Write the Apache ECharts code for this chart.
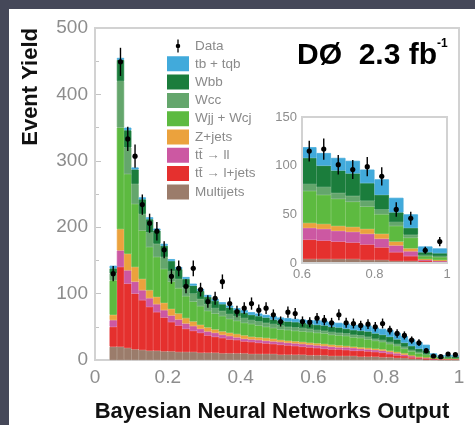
<!DOCTYPE html>
<html><head><meta charset="utf-8">
<script src="https://cdn.jsdelivr.net/npm/echarts@6/dist/echarts.min.js"></script>
<style>html,body{margin:0;padding:0;background:#454859;}#c{width:475px;height:425px;}</style>
</head><body><div id="c"></div>
<script>
// ---- main histogram: 50 bins of width 0.02 on [0,1] (first two bins empty) ----
const nBinsMain = 50;
const multijets = [null,null, 20,20,18,16,15, 14,14,13,13,12, 12,12,11,11,11, 10,10,10,10,9, 9,9,9,8,8, 8,8,7,7,7, 6,6,6,6,5, 5,5,4,4,3, 3,2,2,1,1, 0.5,0.5,0.5];
const ttLjets   = [null,null, 30,120,97,84,75, 66,58,51,44,40, 35,32,30,26,24, 23,21,20,18,18, 17,16,15,15,14, 13,12,12,11,10, 10,10,9,8,9, 8,7,7,5,4, 3,2,1,1,0.5, 0.5,0.5,0.5];
const ttLL      = [null,null, 10,25,20,18,15, 13,12,11,10,9, 8,7,6,6,6, 5,5,4,4,4, 4,4,4,4,4, 4,4,4,4,4, 4,3,4,4,3, 3,3,3,3,3, 2,2,1,1,0.5, 0.5,0.5,0.5];
const zjets     = [null,null, 8,32,25,22,17, 12,11,11,10,9, 8,7,6,6,5, 5,5,5,5,4, 4,4,4,3,3, 3,3,3,3,3, 3,3,2,2,2, 2,2,2,2,2, 2,1,1,1,0.5, 0.5,0.5,0.5];
const wjj       = [null,null, 52,153,120,95,73, 65,60,51,41,38, 33,30,28,25,24, 23,21,20,19,19, 18,17,16,16,16, 16,16,16,16,16, 15,15,15,14,14, 13,12,11,10,9, 7,6,5,4,1.5, 1,1,1];
const wcc       = [null,null, 10,70,40,30,25, 22,20,18,16,14, 13,12,11,10,8, 8,7,7,7,6, 6,6,6,6,5, 5,5,5,4,4, 4,4,4,4,4, 4,3,3,3,3, 3,2,2,1,1, 0.5,1,0.5];
const wbb       = [null,null, 8,32,26,22,22, 20,20,17,15,15, 13,12,12,11,11, 10,10,9,8,8, 8,8,7,7,8, 8,8,7,8,8, 8,8,7,7,7, 8,8,8,8,7, 6,6,5,5,2, 1.5,1.5,1.5];
const tbtqb     = [null,null, 4,3,4,3,3, 3,3,3,3,3, 3,3,3,3,3, 3,3,3,4,4, 4,4,5,5,5, 5,5,6,7,7, 7,7,8,8,9, 9,9,9,10,10, 10,10,10,9,3, 2,2.5,2];
const dataMain  = [null,null, 130,449,333,307,234, 206,194,166,126,138, 111,138,106,88,93, 118,85,73,78,85, 75,78,68,58,72, 70,58,57,63,60, 56,68,56,55,52, 54,50,55,45,40, 37,30,26,14,6, 5,9,8];

// ---- inset histogram: 10 bins of width 0.04 on [0.6,1] ----
const nBinsInset = 10;
const inMultijets = [4,4,4,4,3,3,2,2,1,0.5];
const inTtLjets   = [20,19,18,17,16,13,9,5,1,0.5];
const inTtLL      = [12,12,11,11,11,9,7,5,1,1];
const inZjets     = [5,5,5,5,5,5,4,3,1,1];
const inWjj       = [33,30,28,26,23,20,16,11,3,3];
const inWcc       = [7,8,6,6,6,5,4,3,1,1];
const inWbb       = [27,22,23,23,18,15,10,7,3,3];
const inTbtqb     = [11,13,13,13,14,16,15,14,6,5];
const inData      = [115,117,101,96,99,89,55,46,13,22];

const mainYTicks = [0,100,200,300,400,500];
const mainXTicks = [0,0.2,0.4,0.6,0.8,1];
const insetYTicks = [0,50,100,150];
const insetXTicks = [0.6,0.8,1];

const names  = ['tb + tqb','Wbb','Wcc','Wjj + Wcj','Z+jets','tt\u0304 \u2192 ll','tt\u0304 \u2192 l+jets','Multijets'];
const colors = ['#41aadb','#1b7d3c','#64a66c','#5dba40','#eba23d','#cc58a2','#e5302e','#9b7c6b'];
const mainStack  = [tbtqb,wbb,wcc,wjj,zjets,ttLL,ttLjets,multijets];
const insetStack = [inTbtqb,inWbb,inWcc,inWjj,inZjets,inTtLL,inTtLjets,inMultijets];

const mainCats = Array.from({length:nBinsMain},(_,i)=>String(i));
const insetCats = Array.from({length:nBinsInset},(_,i)=>String(i));

const FONT = '"Liberation Sans", Arial, sans-serif';
const labelGrey = '#8d8d8d';

function errBars(params, api){
  const x = api.value(0), y = api.value(1);
  const e = Math.sqrt(y);
  const p = api.coord([x, y]);
  const lo = api.coord([x, Math.max(0, y - e)]);
  const hi = api.coord([x, y + e]);
  return {type:'group', children:[
    {type:'line', shape:{x1:p[0],y1:lo[1],x2:p[0],y2:hi[1]}, style:{stroke:'#000',lineWidth:1.4}},
    {type:'circle', shape:{cx:p[0],cy:p[1],r:2.6}, style:{fill:'#000'}}
  ]};
}

const series = [];
for (let k = mainStack.length - 1; k >= 0; k--) {
  series.push({name:names[k], type:'bar', stack:'main', xAxisIndex:0, yAxisIndex:0, z:2,
    barCategoryGap:'0%', data:mainStack[k],
    itemStyle:{color:colors[k], borderColor:colors[k], borderWidth:0.8}, silent:true});
}
series.push({name:'Data', type:'custom', xAxisIndex:0, yAxisIndex:0, z:3,
  itemStyle:{color:'#000'}, renderItem:errBars, encode:{x:0,y:1},
  data:dataMain.map((v,i)=>[i,v]).filter(d=>d[1]!==null)});
for (let k = insetStack.length - 1; k >= 0; k--) {
  series.push({name:names[k], type:'bar', stack:'inset', xAxisIndex:2, yAxisIndex:1, z:6,
    barCategoryGap:'0%', data:insetStack[k],
    itemStyle:{color:colors[k], borderColor:colors[k], borderWidth:0.8}, silent:true});
}
series.push({name:'Data', type:'custom', xAxisIndex:2, yAxisIndex:1, z:7,
  itemStyle:{color:'#000'}, renderItem:errBars, encode:{x:0,y:1},
  data:inData.map((v,i)=>[i,v])});

const chart = echarts.init(document.getElementById('c'));
chart.setOption({
  animation:false,
  backgroundColor:'#454859',
  graphic:[
    {type:'rect', z:-10, shape:{x:9,y:9,width:466,height:416}, style:{fill:'#ffffff'}},
    {type:'text', z:10, x:297, y:56, style:{text:'D\u00D8  2.3 fb', font:'bold 30px '+FONT, fill:'#000', verticalAlign:'middle'}},
    {type:'text', z:10, x:437, y:44, style:{text:'-1', font:'bold 12px '+FONT, fill:'#000', verticalAlign:'middle'}},
    {type:'text', z:10, x:31, y:28, rotation:Math.PI/2, style:{text:'Event Yield', font:'bold 22px '+FONT, fill:'#111', align:'right', verticalAlign:'middle'}},
    {type:'text', z:10, x:272, y:412, style:{text:'Bayesian Neural Networks Output', font:'bold 22px '+FONT, fill:'#111', align:'center', verticalAlign:'middle'}}
  ],
  legend:{
    orient:'vertical', left:162, top:34, itemWidth:20, itemHeight:13, itemGap:3.3,
    textStyle:{fontSize:13.5, color:'#8a8a8a', fontFamily:FONT, padding:[0,0,0,2]},
    icon:'rect', selectedMode:false,
    data:[{name:'Data', icon:'path://M4,0H6V20H4Z M5,6.5A3.5,3.5 0 1,1 5,13.5A3.5,3.5 0 1,1 5,6.5Z', itemStyle:{color:'#000'}}].concat(names.map(n=>({name:n})))
  },
  grid:[
    {left:95, right:16, top:28, bottom:65, show:true, borderColor:'#d2d2d2', borderWidth:2, backgroundColor:'transparent', z:1},
    {left:302, right:28, top:117, bottom:162, show:true, borderColor:'#d2d2d2', borderWidth:2, backgroundColor:'#ffffff', z:5}
  ],
  xAxis:[
    {type:'category', gridIndex:0, data:mainCats, show:false, position:'top', boundaryGap:true},
    {type:'value', gridIndex:0, position:'bottom', min:0, max:1, interval:0.2,
      axisLine:{show:true, lineStyle:{color:'#d2d2d2', width:2}}, axisTick:{show:false}, splitLine:{show:false},
      axisLabel:{fontSize:19, color:labelGrey, fontFamily:FONT, margin:8, customValues:mainXTicks, formatter:v=>String(+v.toFixed(1))}},
    {type:'category', gridIndex:1, data:insetCats, show:false, position:'top', boundaryGap:true},
    {type:'value', gridIndex:1, position:'bottom', min:0.6, max:1, interval:0.2, z:8,
      axisLine:{show:true, lineStyle:{color:'#d2d2d2', width:2}}, axisTick:{show:false}, splitLine:{show:false},
      axisLabel:{fontSize:13, color:labelGrey, fontFamily:FONT, margin:5, customValues:insetXTicks, formatter:v=>String(+v.toFixed(1))}}
  ],
  yAxis:[
    {type:'value', gridIndex:0, min:0, max:500, interval:100,
      axisLine:{show:true, lineStyle:{color:'#cfcfcf', width:2}},
      axisTick:{show:true, inside:true, length:6, lineStyle:{color:'#c4c4c4'}},
      minorTick:{show:true, splitNumber:2, length:4, lineStyle:{color:'#c4c4c4'}},
      splitLine:{show:false},
      axisLabel:{fontSize:19, color:labelGrey, fontFamily:FONT, margin:7, customValues:mainYTicks}},
    {type:'value', gridIndex:1, min:0, max:150, interval:50, z:8,
      axisLine:{show:true, lineStyle:{color:'#d2d2d2', width:2}},
      axisTick:{show:false}, splitLine:{show:false},
      axisLabel:{fontSize:13, color:labelGrey, fontFamily:FONT, margin:5, customValues:insetYTicks}}
  ],
  series:series
});
</script></body></html>
